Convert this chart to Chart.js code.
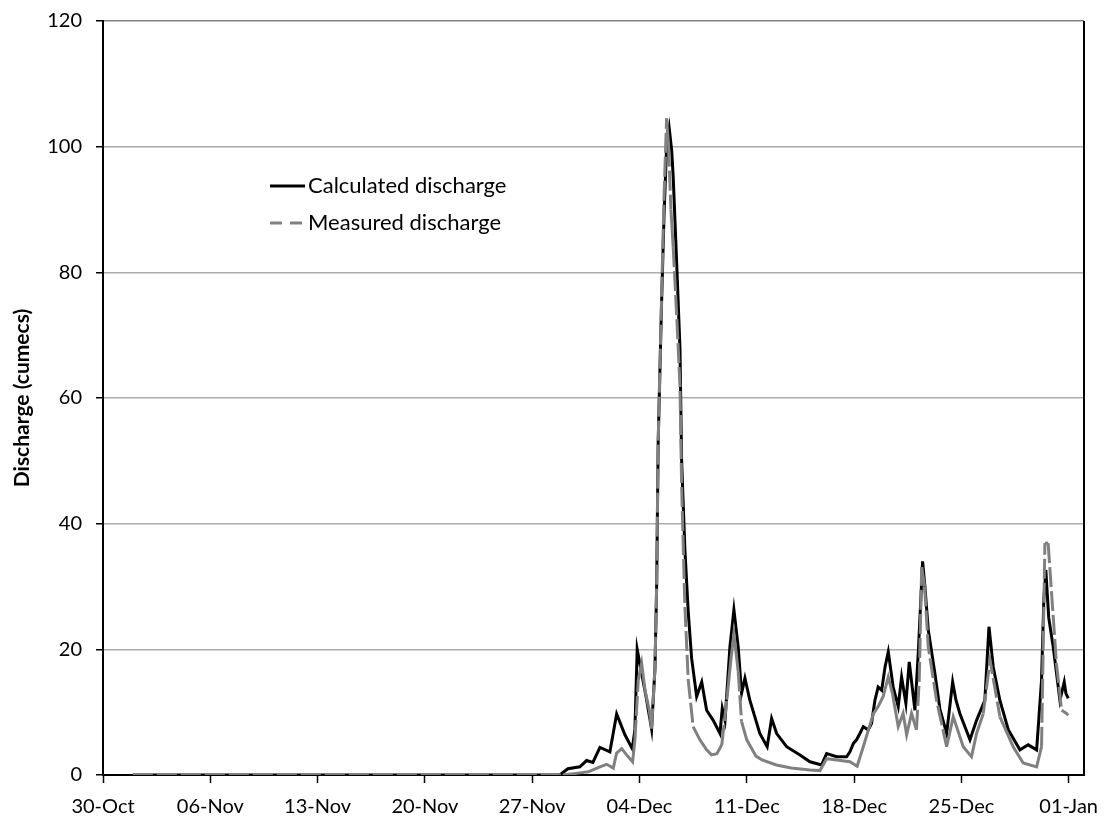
<!DOCTYPE html>
<html>
<head>
<meta charset="utf-8">
<script src="https://cdn.jsdelivr.net/npm/chart.js@4/dist/chart.umd.min.js"></script>
<style>
  html, body { margin: 0; padding: 0; background: #fff; }
  #wrap { position: relative; width: 1107px; height: 823px; }
</style>
</head>
<body>
<div id="wrap"><canvas id="c" width="1107" height="823"></canvas></div>
<script>
// ---- Data (x = days after 30-Oct) ----
const tickLabels = ["30-Oct", "06-Nov", "13-Nov", "20-Nov", "27-Nov", "04-Dec", "11-Dec", "18-Dec", "25-Dec", "01-Jan"];

const calcDays = [1.95, 29.8, 30.33, 31.11, 31.55, 31.96, 32.42, 33.07, 33.51, 34.05, 34.53, 34.7, 34.85, 35.14, 35.47, 35.79,
  36.01, 36.12, 36.22, 36.44, 36.6, 36.77, 36.94, 37.1, 37.2, 37.45, 37.64, 37.75, 37.96, 38.18, 38.4, 38.73, 39.06, 39.38,
  39.81, 40.25, 40.4, 40.58, 40.9, 41.16, 41.44, 41.66, 41.88, 42.2, 42.85, 43.33, 43.62, 43.95, 44.6, 45.47, 46.12, 46.88,
  47.21, 47.86, 48.51, 48.73, 48.95, 49.16, 49.38, 49.6, 49.92, 50.14, 50.36, 50.57, 50.8, 51.02, 51.23, 51.55, 51.88, 52.1,
  52.38, 52.6, 52.97, 53.2, 53.47, 53.62, 53.84, 54.27, 54.6, 55.04, 55.43, 55.64, 55.9, 56.56, 56.99, 57.53, 57.8, 58.08,
  58.51, 59.06, 59.82, 60.36, 60.91, 61.23, 61.38, 61.51, 61.7, 61.99, 62.43, 62.71, 62.82, 62.97];
const calcQ = [0, 0, 1.0, 1.3, 2.3, 2.0, 4.4, 3.7, 9.7, 6.4, 4.2, 7.2, 20.0, 16.2, 11.9, 7.3,
  17, 30, 53, 75, 89, 100, 102.9, 99.4, 95.2, 80, 68, 50, 36, 26, 18.6, 12.5, 14.8, 10.3,
  8.7, 6.6, 10.6, 8.7, 20.4, 26.3, 20.4, 13.0, 15.4, 11.9, 6.6, 4.5, 9.0, 6.6, 4.5, 3.2, 2.1, 1.6,
  3.4, 2.9, 2.9, 3.7, 5.0, 5.6, 6.6, 7.7, 7.2, 8.2, 11.9, 14.0, 13.5, 17.2, 19.6, 14.0, 10.9, 15.6,
  11.4, 18.0, 10.3, 20, 34.0, 30, 23.1, 16.2, 10.5, 6.6, 14.8, 12, 9.8, 5.6, 8.7, 11.9, 23.6, 17.2,
  11.9, 7.2, 4.0, 4.8, 4.0, 15.1, 28, 32.6, 25, 20.4, 11.9, 14.8, 13, 12.2];

const measDays = [1.95, 30.0, 31.0, 31.66, 32.42, 32.86, 33.29, 33.51, 33.84, 34.16, 34.55, 34.7, 34.92, 35.14, 35.36, 35.64, 35.79,
  36.01, 36.12, 36.22, 36.44, 36.6, 36.77, 36.9, 37.05, 37.2, 37.45, 37.64, 37.75, 37.96, 38.18, 38.5, 38.94, 39.38, 39.7,
  40.05, 40.37, 40.7, 40.96, 41.16, 41.44, 41.66, 42.0, 42.6, 43.0, 43.93, 44.9, 46.12, 46.77, 47.21, 47.86, 48.73, 49.2,
  49.6, 50.0, 50.27, 50.57, 50.9, 51.23, 51.5, 51.88, 52.2, 52.43, 52.75, 53.07, 53.25, 53.41, 53.6, 53.84, 54.38, 55.04,
  55.47, 56.12, 56.66, 56.99, 57.43, 57.87, 58.51, 59.38, 60.03, 60.91, 61.23, 61.45, 61.66, 62.2, 62.54, 62.86, 62.97];
const measQ = [0, 0, 0.3, 0.5, 1.3, 1.7, 1.1, 3.5, 4.2, 3.2, 2.1, 5.6, 15.1, 17.8, 13.5, 10.3, 7.4,
  17, 30, 53, 76, 92, 104.5, 100, 90, 84, 72, 62, 46, 27, 15.1, 7.7, 5.6, 4.0, 3.2,
  3.4, 4.8, 12, 18.3, 22.5, 16.5, 8.5, 5.6, 3.0, 2.4, 1.6, 1.1, 0.8, 0.7, 2.6, 2.4, 2.1, 1.4,
  4.5, 7.7, 9.8, 10.9, 12.5, 15.6, 13, 7.7, 9.8, 6.4, 9.8, 7.2, 15, 33.1, 30, 20.4, 11.9, 4.5,
  9.3, 4.5, 2.9, 6.6, 9.8, 18.3, 9.3, 4.5, 1.9, 1.3, 4.5, 36.9, 36.9, 17.8, 10.3, 9.8, 9.5];

const seriesNames = ["Calculated discharge", "Measured discharge"];
const yTitle = "Discharge (cumecs)";

// ---- Build chart ----
const FONT = "Lato, 'Open Sans', 'Liberation Sans', sans-serif";
const toPts = (xs, ys) => xs.map((x, i) => ({ x: x, y: ys[i] }));

const legendPlugin = {
  id: 'customLegend',
  afterDatasetsDraw(chart) {
    const ctx = chart.ctx;
    const items = chart.data.datasets;
    const ys = [186, 223];
    ctx.save();
    [0, 1].forEach((di, k) => {
      const ds = items[di];
      const y = ys[k];
      ctx.beginPath();
      ctx.strokeStyle = ds.borderColor;
      ctx.lineWidth = 3;
      ctx.setLineDash(di === 1 ? [12, 8] : []);
      ctx.moveTo(270, y);
      ctx.lineTo(305, y);
      ctx.stroke();
      ctx.setLineDash([]);
      ctx.fillStyle = '#000';
      ctx.font = "22px " + FONT;
      ctx.textBaseline = 'middle';
      ctx.textAlign = 'left';
      ctx.fillText(ds.label, 308, y);
    });
    ctx.restore();
  }
};

const framePlugin = {
  id: 'frame',
  afterDraw(chart) {
    const a = chart.chartArea, ctx = chart.ctx;
    ctx.save();
    ctx.strokeStyle = '#000';
    ctx.lineWidth = 2;
    ctx.beginPath();
    ctx.moveTo(a.right, a.top);
    ctx.lineTo(a.right, a.bottom);
    ctx.stroke();
    ctx.restore();
  }
};

new Chart(document.getElementById('c'), {
  type: 'line',
  data: {
    datasets: [
      {
        label: seriesNames[0],
        data: toPts(calcDays, calcQ),
        borderColor: '#000000',
        borderWidth: 3,
        pointRadius: 0,
        tension: 0,
        order: 1
      },
      {
        label: seriesNames[1],
        data: toPts(measDays, measQ),
        borderColor: '#808080',
        borderWidth: 3,
        pointRadius: 0,
        tension: 0,
        order: 0,
        segment: {
          borderDash: c => {
            const dx = c.p1.x - c.p0.x, dy = c.p1.y - c.p0.y;
            return Math.hypot(dx, dy) > 40 ? [20, 4] : undefined;
          }
        }
      }
    ]
  },
  options: {
    responsive: false,
    animation: false,
    devicePixelRatio: 1,
    layout: { padding: { top: 21, right: 23, left: 0, bottom: 0 } },
    plugins: { legend: { display: false }, tooltip: { enabled: false } },
    scales: {
      x: {
        type: 'linear',
        min: 0,
        max: 64,
        afterFit: s => { s.height = 48; s.paddingLeft = 0; s.paddingRight = 0; },
        grid: { drawOnChartArea: false, drawTicks: true, tickLength: 8, tickColor: '#000', tickWidth: 1.5 },
        border: { color: '#000', width: 2 },
        ticks: {
          stepSize: 7,
          includeBounds: false,
          autoSkip: false,
          maxRotation: 0,
          padding: 12,
          color: '#000',
          font: { family: FONT, size: 20 },
          callback: v => tickLabels[Math.round(v / 7)] ?? ''
        }
      },
      y: {
        min: 0,
        max: 120,
        afterFit: s => { s.width = 103; s.paddingTop = 0; s.paddingBottom = 0; },
        grid: {
          color: c => c.tick && c.tick.value === 120 ? '#808080' : '#ababab',
          lineWidth: 1.5,
          tickLength: 7,
          tickColor: '#000',
          tickWidth: 1.5
        },
        border: { color: '#000', width: 2 },
        title: { display: true, text: yTitle, color: '#000', font: { family: FONT, size: 21, weight: 'bold' }, padding: { top: 10, bottom: 0 } },
        ticks: {
          stepSize: 20,
          padding: 14,
          color: '#000',
          font: { family: FONT, size: 20 }
        }
      }
    }
  },
  plugins: [legendPlugin, framePlugin]
});
</script>
</body>
</html>
